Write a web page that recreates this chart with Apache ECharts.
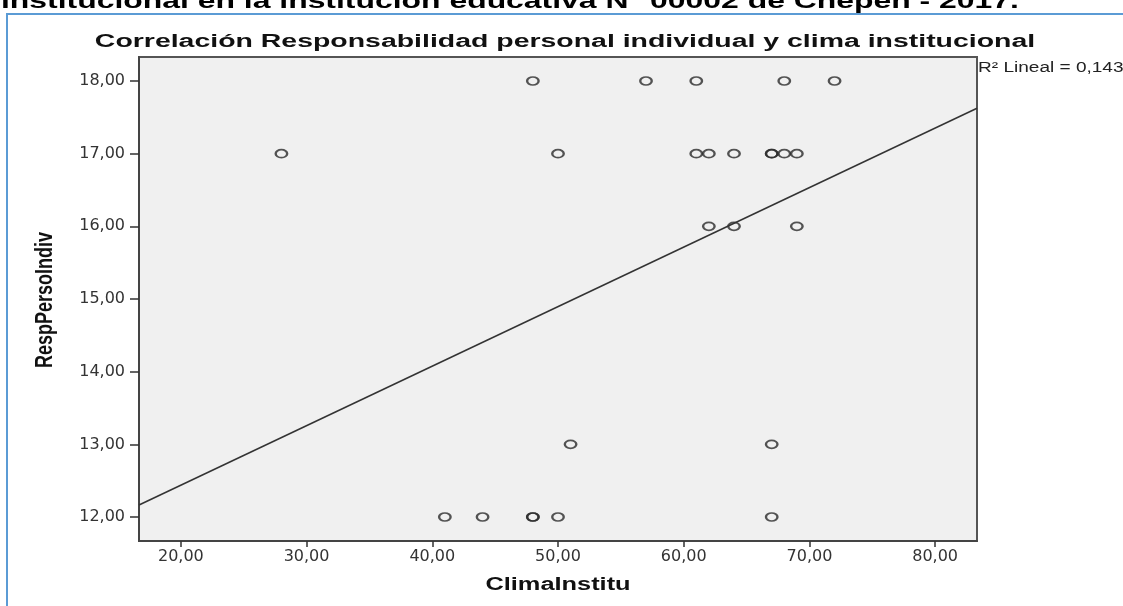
<!DOCTYPE html>
<html>
<head>
<meta charset="utf-8">
<title>Correlación Responsabilidad personal individual y clima institucional</title>
<script src="https://cdn.jsdelivr.net/npm/echarts@6/dist/echarts.min.js"></script>
<style>
  html, body { margin: 0; padding: 0; background: #fff; }
  #main { width: 1123px; height: 606px; }
</style>
</head>
<body>
<div id="main"></div>
<script>
// datos (x = ClimaInstitu, y = RespPersoIndiv)
var climaInstitu   = [48, 57, 61, 68, 72,  28, 50, 61, 62, 64, 67, 67, 68, 69,  62, 64, 69,  51, 67,  41, 44, 48, 48, 50, 67];
var respPersoIndiv = [18, 18, 18, 18, 18,  17, 17, 17, 17, 17, 17, 17, 17, 17,  16, 16, 16,  13, 13,  12, 12, 12, 12, 12, 12];

var xTicks = [20, 30, 40, 50, 60, 70, 80];
var yTicks = [12, 13, 14, 15, 16, 17, 18];
var xRange = [16.67, 83.33];
var yRange = [11.67, 18.33];

var titulo = 'Correlación Responsabilidad personal individual y clima institucional';
var encabezado = 'institucional en la institución educativa N° 00002 de Chepén - 2017.';
var r2Texto = 'R² Lineal = 0,143';

var myChart = echarts.init(document.getElementById('main'));

// puntos
var puntos = [];
climaInstitu.forEach(function (x, i) {
  puntos.push([x, respPersoIndiv[i]]);
});

// recta de ajuste lineal (minimos cuadrados)
var n = climaInstitu.length, sx = 0, sy = 0, sxx = 0, sxy = 0;
for (var i = 0; i < n; i++) {
  sx += climaInstitu[i];
  sy += respPersoIndiv[i];
  sxx += climaInstitu[i] * climaInstitu[i];
  sxy += climaInstitu[i] * respPersoIndiv[i];
}
var pendiente = (n * sxy - sx * sy) / (n * sxx - sx * sx);
var intercepto = (sy - pendiente * sx) / n;
var recta = [
  [xRange[0], intercepto + pendiente * xRange[0]],
  [xRange[1], intercepto + pendiente * xRange[1]]
];

function coma(v) {
  return v.toFixed(2).replace('.', ',');
}

var option = {
  animation: false,
  grid: {
    left: 139, top: 57, right: 146, bottom: 65,
    show: true,
    backgroundColor: '#F0F0F0',
    borderColor: '#555',
    borderWidth: 2
  },
  xAxis: {
    type: 'value',
    min: xRange[0],
    max: xRange[1],
    splitLine: { show: false },
    axisLine: { show: true, lineStyle: { color: '#444', width: 2 } },
    axisTick: { show: true, length: 6, customValues: xTicks, lineStyle: { color: '#333', width: 1.5 } },
    axisLabel: {
      customValues: xTicks,
      margin: 8,
      color: '#333',
      fontFamily: 'DejaVu Sans',
      fontSize: 16,
      formatter: coma
    }
  },
  yAxis: {
    type: 'value',
    min: yRange[0],
    max: yRange[1],
    splitLine: { show: false },
    axisLine: { show: true, lineStyle: { color: '#444', width: 2 } },
    axisTick: { show: true, length: 9, customValues: yTicks, lineStyle: { color: '#333', width: 1.5 } },
    axisLabel: {
      customValues: yTicks,
      margin: 14,
      color: '#333',
      fontFamily: 'DejaVu Sans',
      fontSize: 16,
      formatter: coma
    }
  },
  series: [
    {
      type: 'scatter',
      symbol: 'circle',
      symbolSize: [11.5, 8],
      itemStyle: { color: 'rgba(0,0,0,0)', borderColor: '#2a2a2a', borderWidth: 2 },
      data: puntos
    },
    {
      type: 'line',
      showSymbol: false,
      symbol: 'none',
      lineStyle: { color: '#333', width: 1.5 },
      data: recta
    }
  ],
  graphic: [
    // marco azul del documento
    {
      type: 'rect',
      shape: { x: 7, y: 14, width: 1300, height: 800 },
      style: { fill: null, stroke: '#5B9BD5', lineWidth: 2 },
      silent: true
    },
    // encabezado cortado arriba
    {
      type: 'text',
      x: 1, y: 13,
      scaleX: 1.45,
      style: {
        text: encabezado,
        fontFamily: 'Liberation Sans, Arial',
        fontWeight: 'bold',
        fontSize: 22,
        fill: '#000',
        textAlign: 'left',
        textVerticalAlign: 'bottom'
      }
    },
    {
      type: 'text',
      x: 565, y: 42,
      scaleX: 1.58,
      style: {
        text: titulo,
        fontFamily: 'Liberation Sans, Arial',
        fontWeight: 'bold',
        fontSize: 18,
        fill: '#111',
        textAlign: 'center',
        textVerticalAlign: 'middle'
      }
    },
    {
      type: 'text',
      x: 558, y: 585,
      scaleX: 1.41,
      style: {
        text: 'ClimaInstitu',
        fontFamily: 'Liberation Sans, Arial',
        fontWeight: 'bold',
        fontSize: 18,
        fill: '#111',
        textAlign: 'center',
        textVerticalAlign: 'middle'
      }
    },
    {
      type: 'text',
      x: 45, y: 300,
      rotation: Math.PI / 2,
      scaleY: 1.35,
      style: {
        text: 'RespPersoIndiv',
        fontFamily: 'Liberation Sans, Arial',
        fontWeight: 'bold',
        fontSize: 18,
        fill: '#111',
        textAlign: 'center',
        textVerticalAlign: 'middle'
      }
    },
    {
      type: 'text',
      x: 978, y: 68,
      scaleX: 1.36,
      style: {
        text: r2Texto,
        fontFamily: 'Liberation Sans, Arial',
        fontSize: 14,
        fill: '#222',
        textAlign: 'left',
        textVerticalAlign: 'middle'
      }
    }
  ]
};

myChart.setOption(option);
</script>
</body>
</html>
